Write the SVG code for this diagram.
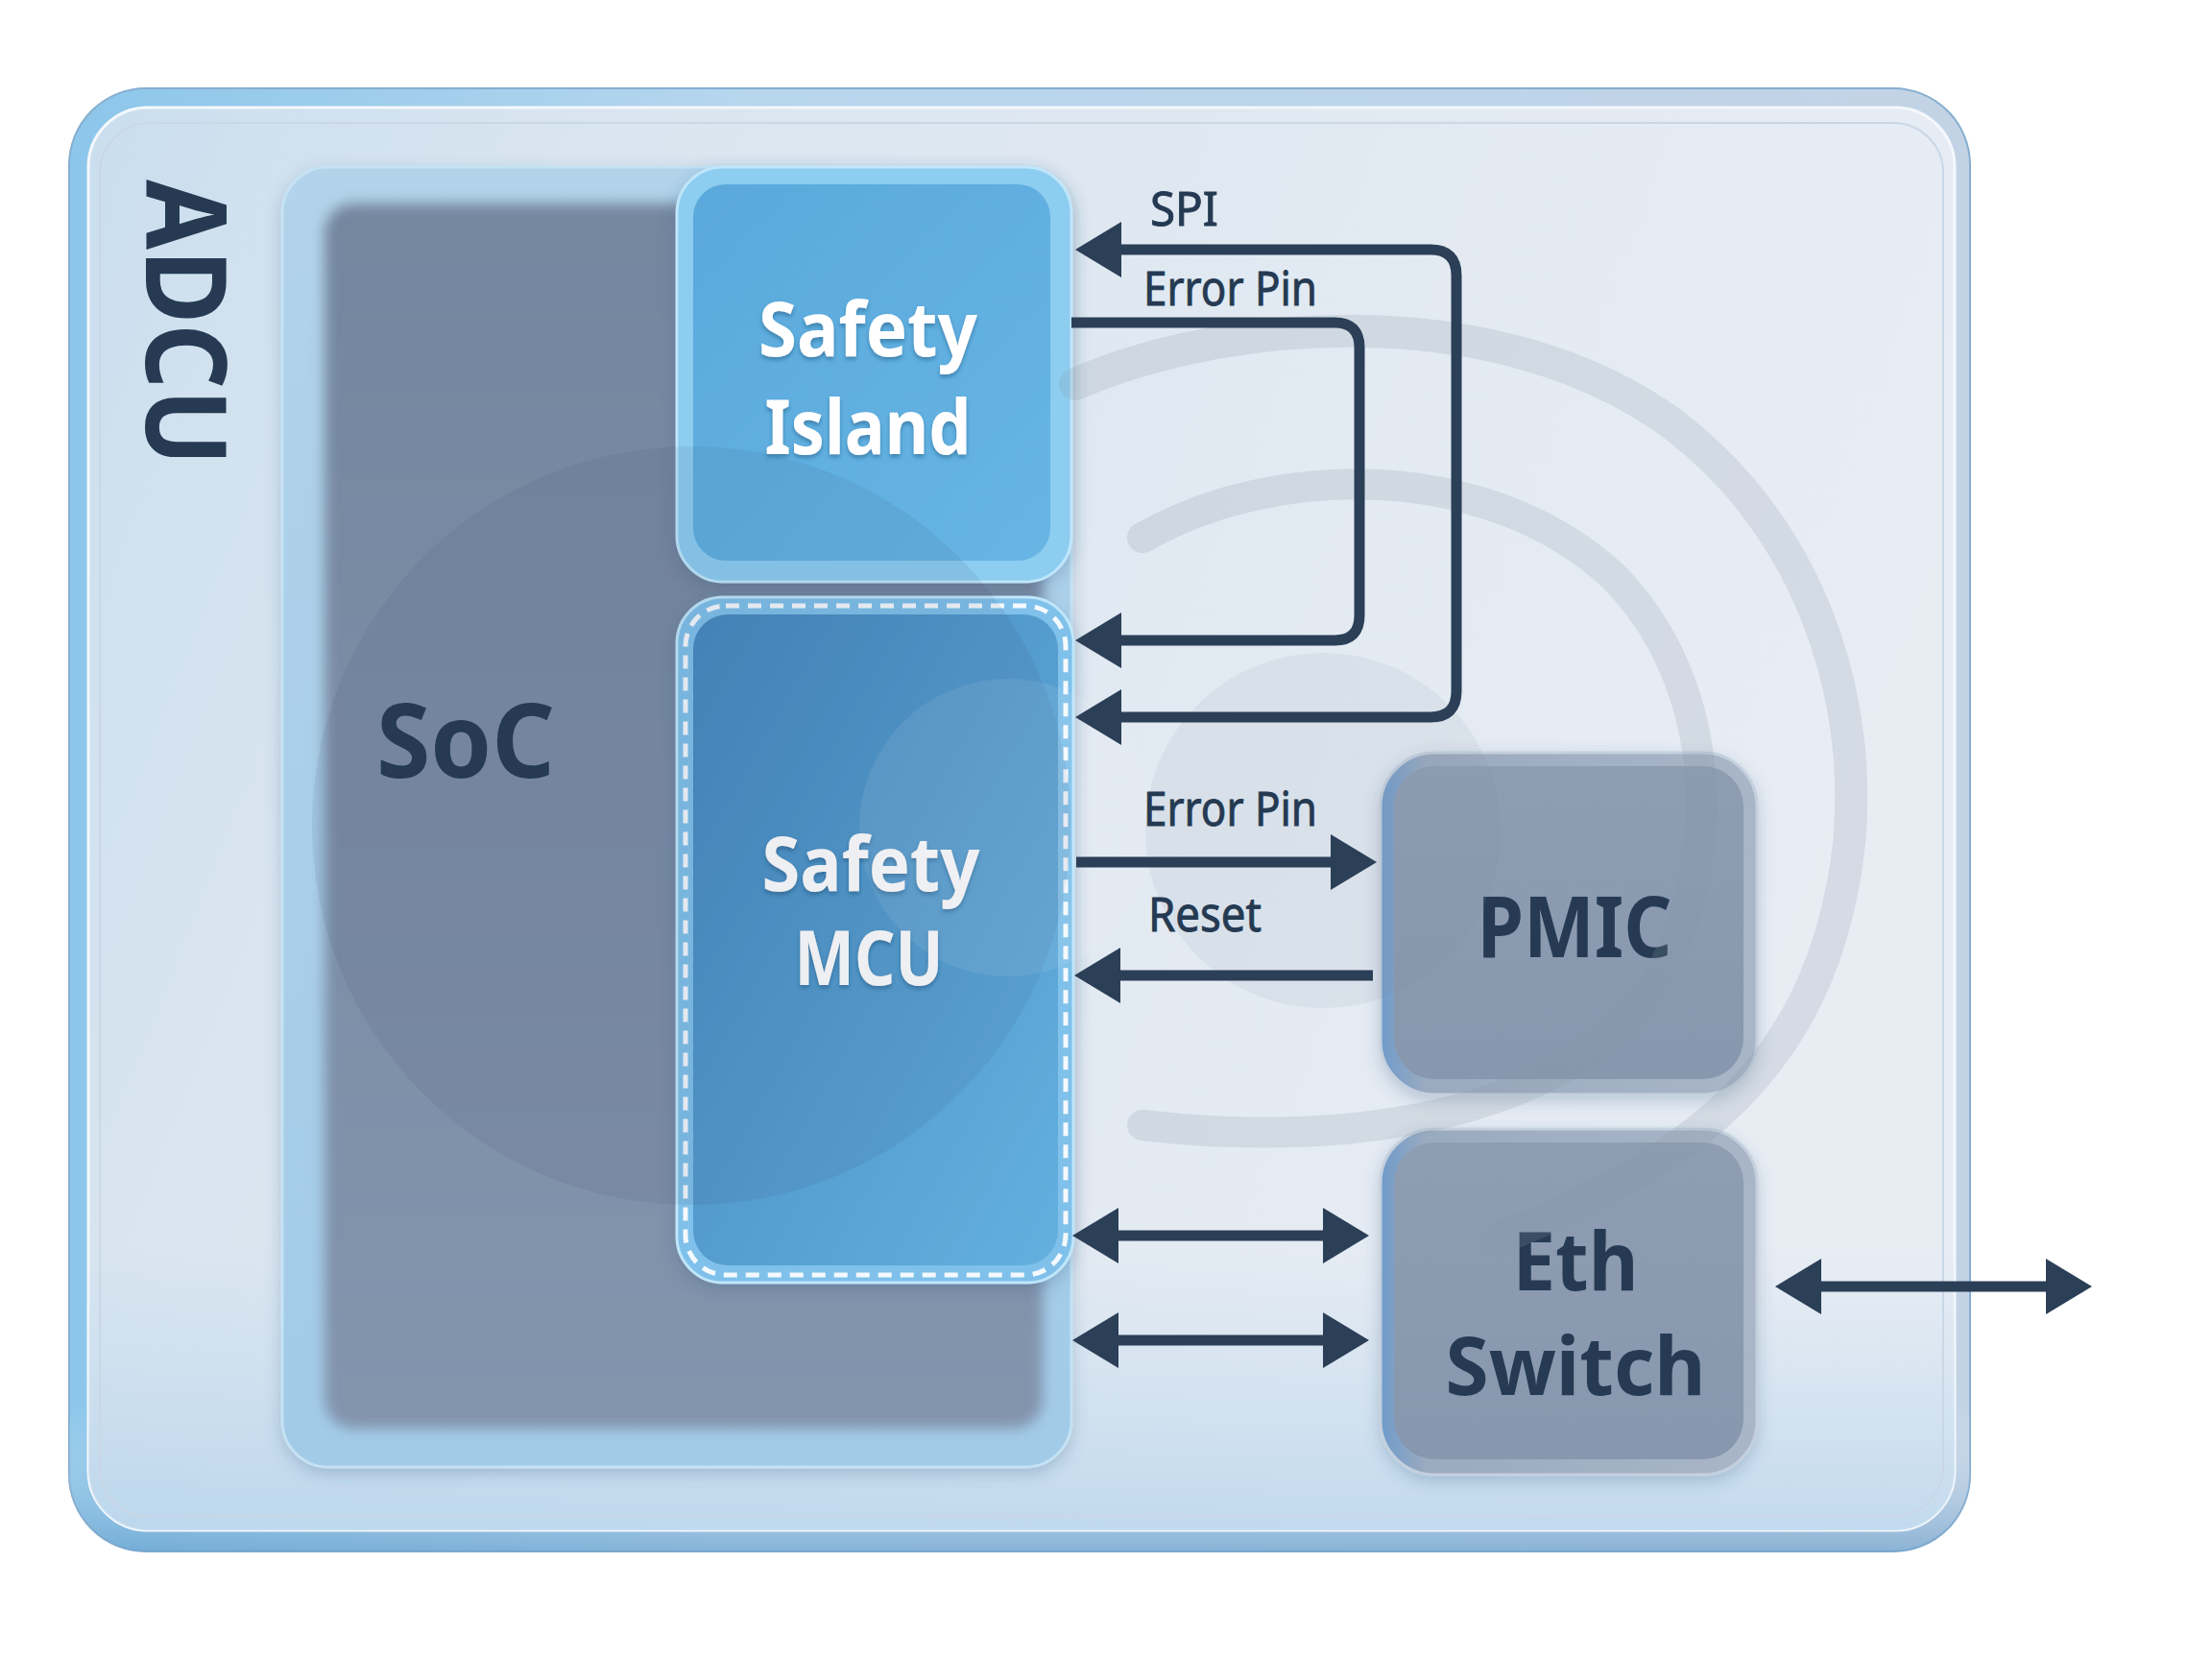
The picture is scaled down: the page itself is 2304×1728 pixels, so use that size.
<svg xmlns="http://www.w3.org/2000/svg" width="2304" height="1728" viewBox="0 0 2304 1728">
  <style>
    .lbl { font-family: "Noto Sans", "Open Sans", "Liberation Sans", sans-serif; font-size: 50px; fill: #253a52; stroke: #253a52; stroke-width: 0.9px; }
    .wt { font-family: "Noto Sans", "Open Sans", "Liberation Sans", sans-serif; font-weight: 700; font-size: 78px; fill: #ffffff; text-anchor: middle; }
    .dk { font-family: "Noto Sans", "Open Sans", "Liberation Sans", sans-serif; font-weight: 700; fill: #263b53; text-anchor: middle; }
    .wire { fill: none; stroke: #2b3f57; stroke-width: 11; stroke-linejoin: round; }
    .ring { fill: none; stroke: #8794a7; stroke-linecap: round; }
  </style>
  <defs>
    <marker id="ah" viewBox="0 0 48 58" refX="28" refY="29" markerWidth="48" markerHeight="58" markerUnits="userSpaceOnUse" orient="auto-start-reverse">
      <path d="M0,0 L48,29 L0,58 z" fill="#2b3f57"/>
    </marker>
    <linearGradient id="rimGrad" x1="0" y1="0" x2="1" y2="0">
      <stop offset="0" stop-color="#8cc6ea"/>
      <stop offset="0.35" stop-color="#b6d6ee"/>
      <stop offset="1" stop-color="#c3d3e5"/>
    </linearGradient>
    <linearGradient id="rimV" x1="0" y1="0" x2="0" y2="1">
      <stop offset="0" stop-color="#ffffff" stop-opacity="0"/>
      <stop offset="0.9" stop-color="#ffffff" stop-opacity="0"/>
      <stop offset="1" stop-color="#5d97c6" stop-opacity="0.55"/>
    </linearGradient>
    <linearGradient id="faceGrad" x1="0" y1="0" x2="1" y2="0.3">
      <stop offset="0" stop-color="#cadeee"/>
      <stop offset="0.25" stop-color="#d9e5f0"/>
      <stop offset="0.7" stop-color="#e3eaf2"/>
      <stop offset="1" stop-color="#e8edf4"/>
    </linearGradient>
    <linearGradient id="faceBottom" x1="0" y1="0" x2="0" y2="1">
      <stop offset="0.8" stop-color="#b4d3ec" stop-opacity="0"/>
      <stop offset="1" stop-color="#a9cdea" stop-opacity="0.6"/>
    </linearGradient>
    <linearGradient id="socRim" x1="0" y1="0" x2="0" y2="1">
      <stop offset="0" stop-color="#b2d3ea"/>
      <stop offset="1" stop-color="#a2cbe8"/>
    </linearGradient>
    <linearGradient id="socBody" x1="0" y1="0" x2="0" y2="1">
      <stop offset="0" stop-color="#74869f"/>
      <stop offset="1" stop-color="#8394ad"/>
    </linearGradient>
    <linearGradient id="islandBody" x1="0" y1="0" x2="1" y2="1">
      <stop offset="0" stop-color="#5aa9dc"/>
      <stop offset="1" stop-color="#67b5e4"/>
    </linearGradient>
    <linearGradient id="mcuBody" x1="0" y1="0" x2="1" y2="1">
      <stop offset="0" stop-color="#4688be"/>
      <stop offset="1" stop-color="#63b0df"/>
    </linearGradient>
    <linearGradient id="grayRim" x1="0" y1="0" x2="1" y2="0">
      <stop offset="0" stop-color="#6f9bcb"/>
      <stop offset="0.12" stop-color="#9aaabf"/>
      <stop offset="1" stop-color="#a9b6c8"/>
    </linearGradient>
    <linearGradient id="grayBody" x1="0" y1="0" x2="0" y2="1">
      <stop offset="0" stop-color="#8e9db2"/>
      <stop offset="1" stop-color="#8797ad"/>
    </linearGradient>
    <filter id="wsh" x="-20%" y="-20%" width="140%" height="140%">
      <feDropShadow dx="0" dy="3" stdDeviation="2" flood-color="#1d4b72" flood-opacity="0.45"/>
    </filter>
    <filter id="boxsh" x="-10%" y="-10%" width="120%" height="120%">
      <feDropShadow dx="0" dy="6" stdDeviation="8" flood-color="#30577e" flood-opacity="0.25"/>
    </filter>
    <filter id="soft" x="-5%" y="-5%" width="110%" height="110%">
      <feGaussianBlur stdDeviation="7"/>
    </filter>
    <clipPath id="faceClip">
      <rect x="92" y="112" width="1944" height="1482" rx="62"/>
    </clipPath>
  </defs>

  <rect width="2304" height="1728" fill="#ffffff"/>

  <g id="adcu">
    <rect x="72" y="92" width="1980" height="1524" rx="80" fill="url(#rimGrad)" stroke="#86aed0" stroke-width="2"/>
    <rect x="72" y="92" width="1980" height="1524" rx="80" fill="url(#rimV)"/>
    <rect x="92" y="112" width="1944" height="1482" rx="62" fill="url(#faceGrad)" stroke="#f4f8fc" stroke-width="3"/>
    <rect x="92" y="112" width="1944" height="1482" rx="62" fill="url(#faceBottom)"/>
    <rect x="104" y="128" width="1920" height="1452" rx="52" fill="none" stroke="#c9d7e6" stroke-width="2"/>
    <text class="dk" font-size="116" transform="translate(152,336) rotate(90)" x="0" y="0" textLength="298" lengthAdjust="spacingAndGlyphs">ADCU</text>
  </g>

  <g id="soc" filter="url(#boxsh)">
    <rect x="294" y="174" width="822" height="1354" rx="48" fill="url(#socRim)" stroke="#c4e2f4" stroke-width="3"/>
    <rect x="338" y="212" width="748" height="1276" rx="30" fill="url(#socBody)" filter="url(#soft)"/>
    <text class="dk" x="485" y="810" font-size="108" textLength="186" lengthAdjust="spacingAndGlyphs">SoC</text>
  </g>

  <g id="safety-island" filter="url(#boxsh)">
    <rect x="705" y="174" width="411" height="432" rx="48" fill="#8ccdf0" stroke="#bfe6fa" stroke-width="3"/>
    <rect x="722" y="192" width="372" height="392" rx="34" fill="url(#islandBody)"/>
    <text class="wt" x="904" y="371" filter="url(#wsh)" textLength="228" lengthAdjust="spacingAndGlyphs">Safety</text>
    <text class="wt" x="904" y="473" filter="url(#wsh)" textLength="215" lengthAdjust="spacingAndGlyphs">Island</text>
  </g>

  <g id="safety-mcu" filter="url(#boxsh)">
    <rect x="705" y="622" width="413" height="714" rx="48" fill="#7fc1ea" stroke="#bfe6fa" stroke-width="3"/>
    <rect x="722" y="640" width="380" height="678" rx="36" fill="url(#mcuBody)"/>
    <rect x="714" y="631" width="396" height="697" rx="42" fill="none" stroke="#f4f9fd" stroke-width="5" stroke-dasharray="14 9"/>
    <text class="wt" x="907" y="928" filter="url(#wsh)" textLength="227" lengthAdjust="spacingAndGlyphs">Safety</text>
    <text class="wt" x="905" y="1026" filter="url(#wsh)" textLength="155" lengthAdjust="spacingAndGlyphs">MCU</text>
  </g>

  <g id="pmic" filter="url(#boxsh)">
    <rect x="1438" y="784" width="392" height="356" rx="56" fill="url(#grayRim)" stroke="#c4d0de" stroke-width="3"/>
    <rect x="1452" y="798" width="364" height="326" rx="42" fill="url(#grayBody)"/>
    <text class="dk" x="1640" y="997" font-size="88" textLength="203" lengthAdjust="spacingAndGlyphs">PMIC</text>
  </g>

  <g id="eth-switch" filter="url(#boxsh)">
    <rect x="1438" y="1176" width="392" height="360" rx="56" fill="url(#grayRim)" stroke="#c4d0de" stroke-width="3"/>
    <rect x="1452" y="1190" width="364" height="330" rx="42" fill="url(#grayBody)"/>
    <text class="dk" x="1641" y="1344" font-size="84" textLength="131" lengthAdjust="spacingAndGlyphs">Eth</text>
    <text class="dk" x="1641" y="1453" font-size="84" textLength="271" lengthAdjust="spacingAndGlyphs">Switch</text>
  </g>

  <g id="swirl" clip-path="url(#faceClip)">
    <circle cx="720" cy="860" r="395" fill="#22395a" opacity="0.08"/>
    <circle cx="1050" cy="862" r="155" fill="#ffffff" opacity="0.08"/>
    <circle cx="1378" cy="865" r="185" fill="#7d8a9e" opacity="0.1"/>
    <path class="ring" stroke-width="34" opacity="0.2" d="M1120,400 C1280,330 1560,310 1740,440 C1900,560 1950,760 1920,920 C1890,1080 1800,1200 1560,1290"/>
    <path class="ring" stroke-width="32" opacity="0.2" d="M1190,560 C1330,480 1550,480 1680,600 C1790,710 1800,900 1720,1030 C1640,1150 1430,1200 1190,1172"/>
  </g>

  <g id="connectors">
    <path class="wire" marker-start="url(#ah)" marker-end="url(#ah)" d="M1140,260 H1490 Q1517,260 1517,287 V720 Q1517,747 1490,747 H1140"/>
    <path class="wire" marker-end="url(#ah)" d="M1116,336 H1390 Q1416,336 1416,362 V641 Q1416,667 1390,667 H1140"/>
    <path class="wire" marker-end="url(#ah)" d="M1121,898 H1414"/>
    <path class="wire" marker-end="url(#ah)" d="M1430,1016 H1139"/>
    <path class="wire" marker-start="url(#ah)" marker-end="url(#ah)" d="M1137,1287 H1406"/>
    <path class="wire" marker-start="url(#ah)" marker-end="url(#ah)" d="M1137,1396 H1406"/>
    <path class="wire" marker-start="url(#ah)" marker-end="url(#ah)" d="M1869,1340 H2159"/>
    <text class="lbl" x="1198" y="235" textLength="71" lengthAdjust="spacingAndGlyphs">SPI</text>
    <text class="lbl" x="1191" y="318" textLength="181" lengthAdjust="spacingAndGlyphs">Error Pin</text>
    <text class="lbl" x="1191" y="860" textLength="181" lengthAdjust="spacingAndGlyphs">Error Pin</text>
    <text class="lbl" x="1196" y="970" textLength="118" lengthAdjust="spacingAndGlyphs">Reset</text>
  </g>
</svg>
